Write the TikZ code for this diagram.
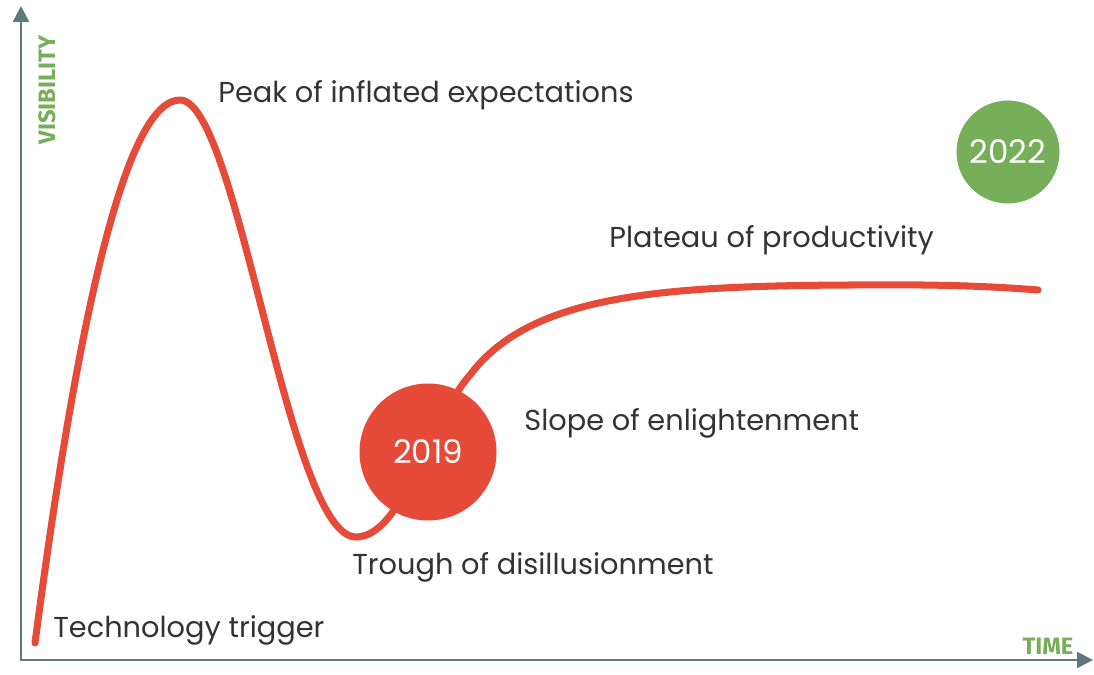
\documentclass[tikz,border=0pt]{standalone}
\usepackage{fontspec}
\usetikzlibrary{arrows.meta}
\setmainfont{Poppins}
\newfontfamily\axisfont{Fira Sans}
\definecolor{hypered}{HTML}{E64A38}
\definecolor{hypegreen}{HTML}{76AE5A}
\definecolor{axisgray}{HTML}{5F7880}
\tikzset{
  phase/.style = {anchor = west, text = black!80, font = \fontsize{16.4}{19}\selectfont, inner sep = 0pt},
  axislabel/.style = {text = hypegreen, font = \axisfont\bfseries\fontsize{13.5}{15}\selectfont, inner sep = 0pt},
  year/.style = {circle, text = white, font = \fontsize{18.5}{21}\selectfont}
}
\begin{document}
\begin{tikzpicture}[x = 0.02cm, y = -0.02cm, line join = round, line cap = round]
\useasboundingbox (0, 0) rectangle (1094, 675);
\coordinate (O) at (21, 660);
\coordinate (Ytop) at (21, 6);
\coordinate (Xend) at (1093, 660);

% axes
\draw[axisgray, line width = 1.4pt, -{Triangle[length = 9pt, width = 9pt]}] (O) -- (Ytop);
\draw[axisgray, line width = 1.4pt, -{Triangle[length = 9pt, width = 9pt]}] (O) -- (Xend);
\node[axislabel, rotate = 90] (vis) at (47, 90) {VISIBILITY};
\node[axislabel] (time) at (1048, 646) {TIME};

% hype curve
\coordinate (start) at (35, 643);
\coordinate (peak) at (180, 100);
\coordinate (trough) at (356, 537);
\coordinate (slope) at (470, 375);
\coordinate (plateau) at (850, 285);
\coordinate (finish) at (1038, 290);
\draw[hypered, line width = 4pt]
  (start) .. controls (80, 300) and (128, 100) .. (peak)
          .. controls (238, 100) and (288, 537) .. (trough)
          .. controls (403, 537) and (430, 420) .. (slope)
          .. controls (530, 295) and (660, 286) .. (plateau)
          .. controls (950, 284) and (1000, 287) .. (finish);

% years
\node[year, fill = hypered, minimum size = 137*0.02cm] (y2019) at (428, 452) {2019};
\node[year, fill = hypegreen, minimum size = 103*0.02cm] (y2022) at (1008, 152) {2022};

% phases
\node[phase] (trigger) at (53, 630) {Technology trigger};
\node[phase] (peaklbl) at (218, 95) {Peak of inflated expectations};
\node[phase] (troughlbl) at (352, 567) {Trough of disillusionment};
\node[phase] (slopelbl) at (524, 423) {Slope of enlightenment};
\node[phase] (platlbl) at (609, 240) {Plateau of productivity};
\end{tikzpicture}
\end{document}
